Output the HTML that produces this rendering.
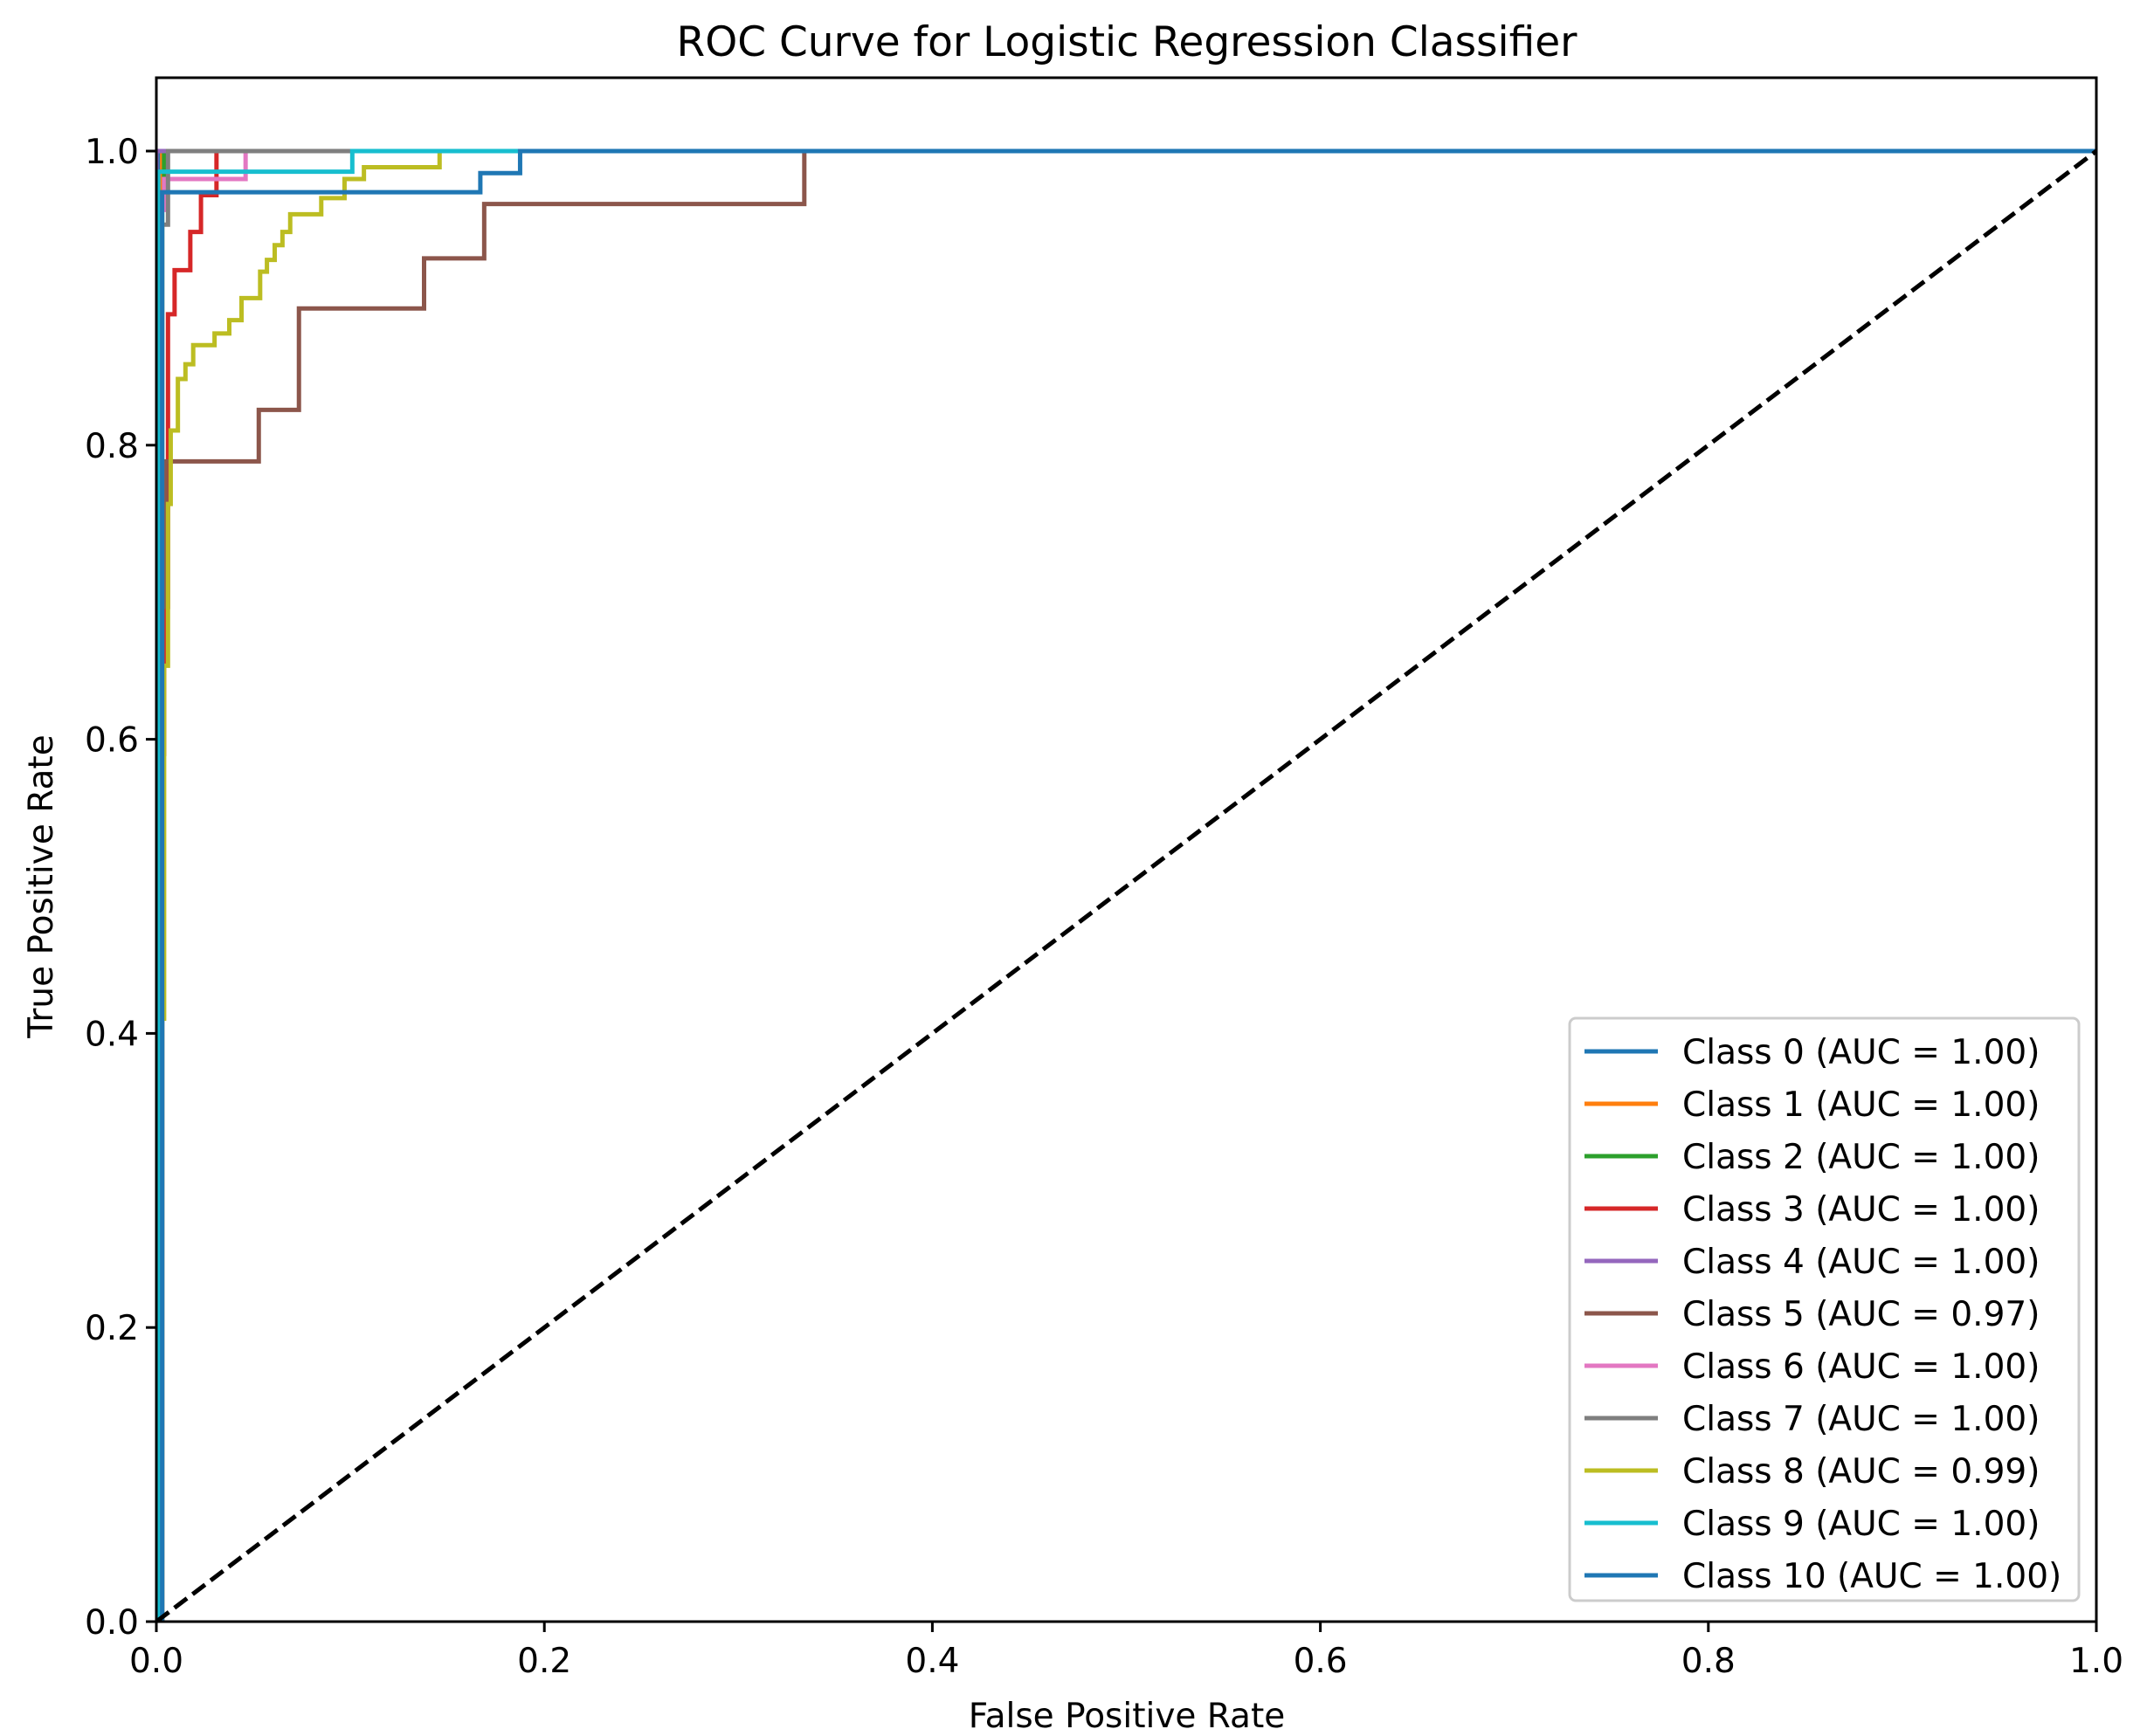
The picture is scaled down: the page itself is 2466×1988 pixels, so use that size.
<!DOCTYPE html>
<html><head><meta charset="utf-8"><style>
html,body{margin:0;padding:0;background:#fff;}
svg{display:block;font-family:"DejaVu Sans","Liberation Sans",sans-serif;}
</style></head><body>
<svg id="chart" width="2466" height="1988" viewBox="0 0 2466 1988">
<rect width="2466" height="1988" fill="#fff"/>
<text x="1290" y="64" font-size="47" text-anchor="middle" fill="#000">ROC Curve for Logistic Regression Classifier</text>
<g id="plot"></g>
<text x="1290" y="1978" font-size="39" text-anchor="middle">False Positive Rate</text>
<text x="0" y="0" font-size="39" text-anchor="middle" transform="translate(60,1015) rotate(-90)">True Positive Rate</text>
</svg>
<script>
const classLabels = ["Class 0","Class 1","Class 2","Class 3","Class 4","Class 5","Class 6","Class 7","Class 8","Class 9","Class 10"];
const aucValues = ["1.00","1.00","1.00","1.00","1.00","0.97","1.00","1.00","0.99","1.00","1.00"];
const colors = ["#1f77b4","#ff7f0e","#2ca02c","#d62728","#9467bd","#8c564b","#e377c2","#7f7f7f","#bcbd22","#17becf","#1f77b4"];
const fpr0 = [0,0,0.002,1];            const tpr0 = [0,0.9,1,1];
const fpr1 = [0,0.0015,0.003,1];       const tpr1 = [0,0.96,1,1];
const fpr2 = [0,0.003,0.004,1];        const tpr2 = [0,0.97,1,1];
const fpr3 = [0,0.002,0.004,0.006,0.0094,0.0175,0.023,0.031,1];
const tpr3 = [0,0.59,0.69,0.889,0.919,0.945,0.970,1,1];
const fpr4 = [0,0,1];                  const tpr4 = [0,1,1];
const fpr5 = [0,0.003,0.005,0.0528,0.0735,0.138,0.169,0.334,1];
const tpr5 = [0,0.69,0.789,0.824,0.893,0.927,0.964,1,1];
const fpr6 = [0,0.002,0.004,0.046,1];  const tpr6 = [0,0.96,0.981,1,1];
const fpr7 = [0,0.003,0.006,1];        const tpr7 = [0,0.95,1,1];
const fpr8 = [0,0.001,0.002,0.004,0.006,0.0074,0.0111,0.015,0.019,0.030,0.0376,0.0439,0.0535,0.057,0.061,0.065,0.069,0.085,0.097,0.107,0.146,1];
const tpr8 = [0,0.34,0.41,0.65,0.76,0.81,0.845,0.855,0.868,0.876,0.885,0.90,0.918,0.926,0.936,0.945,0.957,0.968,0.981,0.989,1,1];
const fpr9 = [0,0.001,0.101,1];        const tpr9 = [0,0.986,1,1];
const fpr10 = [0,0.003,0.167,0.1875,1]; const tpr10 = [0,0.972,0.985,1,1];
const xTicks = ["0.0","0.2","0.4","0.6","0.8","1.0"];
const yTicks = ["0.0","0.2","0.4","0.6","0.8","1.0"];

const FPRS=[fpr0,fpr1,fpr2,fpr3,fpr4,fpr5,fpr6,fpr7,fpr8,fpr9,fpr10];
const TPRS=[tpr0,tpr1,tpr2,tpr3,tpr4,tpr5,tpr6,tpr7,tpr8,tpr9,tpr10];
const L=179,R=2400,B=1857,T1=173;
const X=v=>L+v*(R-L);
const Y=v=>B-v*(B-T1);
const NS="http://www.w3.org/2000/svg";
const plot=document.getElementById('plot');
function mk(tag,attrs,parent){const e=document.createElementNS(NS,tag);for(const k in attrs)e.setAttribute(k,attrs[k]);(parent||plot).appendChild(e);return e;}
const clip=mk('clipPath',{id:'cp'});mk('rect',{x:L,y:89,width:R-L,height:B-89},clip);
const lines=mk('g',{'clip-path':'url(#cp)'});
for(let c=0;c<FPRS.length;c++){
  const fx=FPRS[c],ty=TPRS[c];
  let d='M'+X(fx[0])+' '+Y(ty[0]);
  for(let i=1;i<fx.length;i++){d+=' L'+X(fx[i])+' '+Y(ty[i-1])+' L'+X(fx[i])+' '+Y(ty[i]);}
  const p=mk('path',{d:d,fill:'none',stroke:colors[c],'stroke-width':5,'stroke-linejoin':'miter'},lines);
  
  
}
const diag=mk('line',{x1:X(0),y1:Y(0),x2:X(1),y2:Y(1),stroke:'#000','stroke-width':5,'stroke-dasharray':'18 8'},lines);


const frame=mk('rect',{x:L,y:89,width:R-L,height:B-89,fill:'none',stroke:'#000','stroke-width':3});


xTicks.forEach((t,i)=>{
  const v=i/(xTicks.length-1);
  const tk=mk('line',{x1:X(v),y1:B,x2:X(v),y2:B+12,stroke:'#000','stroke-width':3});
  
  
  const tx=mk('text',{x:X(v),y:B+58,'font-size':39,'text-anchor':'middle'});tx.textContent=t;
  
  
});
yTicks.forEach((t,i)=>{
  const v=i/(yTicks.length-1);
  const tk=mk('line',{x1:L-12,y1:Y(v),x2:L,y2:Y(v),stroke:'#000','stroke-width':3});
  
  
  const tx=mk('text',{x:L-20,y:Y(v)+14,'font-size':39,'text-anchor':'end'});tx.textContent=t;
  
  
});
const lg=mk('g',{});


mk('rect',{x:1797,y:1166,width:583,height:667,rx:7,fill:'#fff','fill-opacity':0.8,stroke:'#ccc','stroke-width':3},lg);
classLabels.forEach((lab,i)=>{
  const y=1204+i*60;
  const g=mk('g',{},lg);
  
  
  mk('line',{x1:1814,y1:y,x2:1898,y2:y,stroke:colors[i],'stroke-width':5},g);
  const tx=mk('text',{x:1926,y:y+14,'font-size':39},g);tx.textContent=lab+' (AUC = '+aucValues[i]+')';
});
</script>
</body></html>
